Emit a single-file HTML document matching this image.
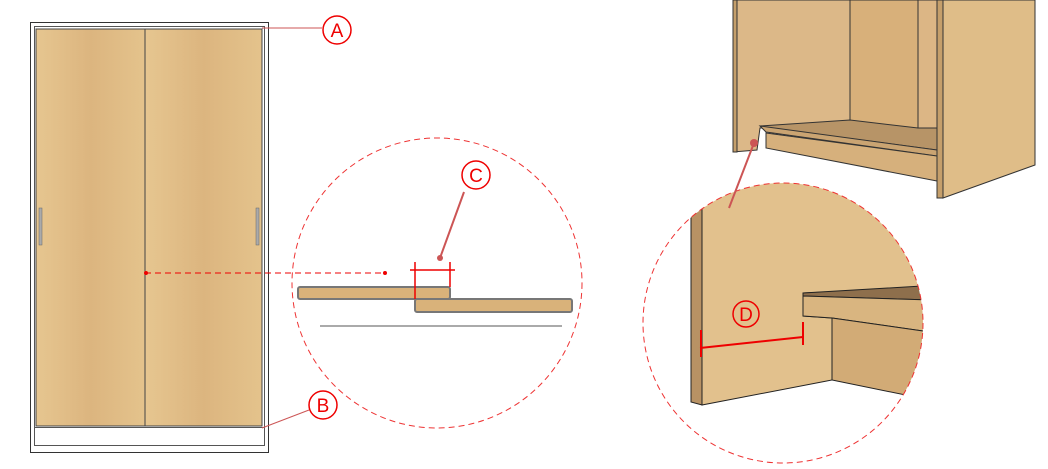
<!DOCTYPE html>
<html><head><meta charset="utf-8"><style>
html,body{margin:0;padding:0;background:#fff;width:1048px;height:469px;overflow:hidden}
svg text{font-family:"Liberation Sans",sans-serif}
</style></head><body>
<svg width="1048" height="469" viewBox="0 0 1048 469">
<defs>
<linearGradient id="wood" x1="0" x2="1" y1="0" y2="0">
<stop offset="0" stop-color="#e6c690"/><stop offset="0.5" stop-color="#dcb57f"/><stop offset="1" stop-color="#e4c38c"/></linearGradient>
<clipPath id="c2"><circle cx="783" cy="323" r="140"/></clipPath>
</defs>
<g>
<rect x="30.5" y="22.5" width="238" height="430" fill="#fff" stroke="#333"/>
<rect x="34.5" y="26.5" width="230" height="401" fill="none" stroke="#555"/>
<rect x="36" y="29" width="109" height="397" fill="url(#wood)" stroke="#444"/>
<rect x="145" y="29" width="117" height="397" fill="url(#wood)" stroke="#444"/>
<rect x="34.5" y="427.5" width="230" height="18" fill="#fff" stroke="#555"/>
<rect x="39" y="208" width="3" height="37" fill="#aaa" stroke="#666" stroke-width="0.5"/>
<rect x="256" y="208" width="3" height="37" fill="#aaa" stroke="#666" stroke-width="0.5"/>
</g>
<g stroke="#e00" fill="none" stroke-width="1.5">
<line x1="262" y1="28" x2="322" y2="28" stroke="#c55" stroke-width="1"/>
<circle cx="337" cy="30" r="14"/>
<text x="337" y="37" text-anchor="middle" font-size="19" fill="#e00" stroke="none">A</text>
</g>
<g stroke="#e00" fill="none" stroke-width="1.5">
<line x1="262" y1="428" x2="309" y2="410" stroke="#c55" stroke-width="1"/>
<circle cx="323" cy="405" r="14"/>
<text x="323" y="412" text-anchor="middle" font-size="19" fill="#e00" stroke="none">B</text>
</g>
<g>
<circle cx="437" cy="283" r="145" fill="#fff" stroke="#e33" stroke-dasharray="6,4"/>
<rect x="298" y="287" width="152" height="12" rx="2" fill="#d9b27a" stroke="#777" stroke-width="2"/>
<rect x="415" y="299" width="157" height="13" rx="2" fill="#d9b27a" stroke="#777" stroke-width="2"/>
<line x1="320" y1="326" x2="562" y2="326" stroke="#aaa" stroke-width="2"/>
<g stroke="#e00" stroke-width="1.5">
<line x1="415" y1="262" x2="415" y2="299"/><line x1="450" y1="262" x2="450" y2="287"/>
<line x1="410" y1="270" x2="455" y2="270"/></g>
<line x1="440" y1="258" x2="464" y2="192" stroke="#c55" stroke-width="2"/>
<circle cx="440" cy="258" r="3" fill="#c55"/>
<circle cx="476" cy="175" r="14" fill="none" stroke="#e00" stroke-width="1.5"/>
<text x="476" y="182" text-anchor="middle" font-size="19" fill="#e00">C</text>
</g>
<line x1="145" y1="273" x2="385" y2="273" stroke="#e00" stroke-dasharray="6,4"/>
<circle cx="146" cy="273" r="2" fill="#e00"/><circle cx="385" cy="273" r="2" fill="#e00"/>
<g stroke="#333" stroke-width="1">
<polygon points="733,0 850,0 850,128 760,128 757,150 733,152" fill="#dcb888"/>
<polygon points="850,0 918,0 918,128 850,135" fill="#d8b07a"/>
<polygon points="918,0 937,0 937,130 918,128" fill="#dcb685"/>
<polygon points="760,126 850,120 918,128 937,128 937,150 770,128" fill="#b79467"/>
<polygon points="760,126 937,150 937,156 766,132" fill="#caa472"/>
<polygon points="766,133 937,156 937,181 766,148" fill="#d6b07c"/>
<polygon points="937,0 943,0 943,198 937,198" fill="#c59f6b"/>
<polygon points="943,0 1035,0 1035,165 943,198" fill="#dfbd88"/>
<polygon points="733,0 737,0 737,152 733,152" fill="#c59f6b"/>
</g>
<g clip-path="url(#c2)" stroke="#222">
<rect x="640" y="180" width="290" height="290" fill="#fff" stroke="none"/>
<polygon points="702,180 930,180 930,288 803,293 803,316 832,318 832,380 702,405" fill="#e2c18d"/>
<polygon points="691,210 702,205 702,405 691,402" fill="#b89264"/>
<polygon points="803,293 922,286 930,288 930,300 803,296" fill="#8e6f4c"/>
<polygon points="803,296 930,300 930,332 832,318 803,316" fill="#d9b580"/>
<polygon points="832,318 930,332 930,400 832,380" fill="#d2ab76"/>
</g>
<circle cx="783" cy="323" r="140" fill="none" stroke="#e33" stroke-dasharray="6,4"/>
<line x1="754" y1="143" x2="729" y2="208" stroke="#c55" stroke-width="2"/>
<circle cx="754" cy="143" r="4" fill="#c55"/>
<g stroke="#e00" stroke-width="2" fill="none">
<line x1="700" y1="348" x2="803" y2="337"/>
<line x1="701" y1="330" x2="701" y2="357"/><line x1="803" y1="322" x2="803" y2="345"/>
<circle cx="746" cy="314" r="13" stroke-width="1.5"/>
<text x="746" y="321" text-anchor="middle" font-size="19" fill="#e00" stroke="none">D</text>
</g>
</svg>
</body></html>
